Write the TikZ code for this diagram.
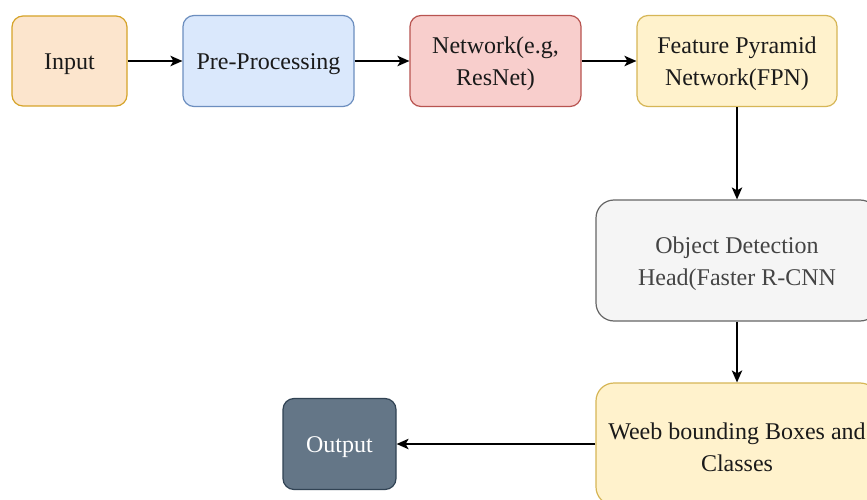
\documentclass[tikz,border=0pt]{standalone}
\usepackage{fontspec}
\setmainfont{Liberation Serif}
\usetikzlibrary{arrows.meta}
\definecolor{orangefill}{HTML}{FCE5CD}
\definecolor{orangeline}{HTML}{D6A42A}
\definecolor{bluefill}{HTML}{DAE8FC}
\definecolor{blueline}{HTML}{6C8EBF}
\definecolor{redfill}{HTML}{F8CECC}
\definecolor{redline}{HTML}{B85450}
\definecolor{yellowfill}{HTML}{FFF2CC}
\definecolor{yellowline}{HTML}{D6B656}
\definecolor{grayfill}{HTML}{F5F5F5}
\definecolor{grayline}{HTML}{666666}
\definecolor{darkfill}{HTML}{647687}
\definecolor{darkline}{HTML}{314354}
\definecolor{txt}{HTML}{1A1A1A}
\definecolor{graytxt}{HTML}{444444}
\begin{document}
\begin{tikzpicture}[x=1pt,y=-1pt,
  box/.style={draw, line width=1.2pt, rounded corners=11pt, inner sep=0pt},
  lbl/.style={align=center, inner sep=0pt, font=\fontsize{24}{32}\selectfont, text=txt},
  conn/.style={line width=1.4pt, -{Stealth[length=12pt,width=10.5pt,inset=3pt]}}]
\useasboundingbox (0,0) rectangle (867,500);
\clip (0,0) rectangle (867,500);
\fill[white] (0,0) rectangle (867,500);

% top row
\node[box, fill=orangefill, draw=orangeline, minimum width=115pt, minimum height=90pt] (in) at (69.5,61) {};
\node[box, fill=bluefill, draw=blueline, minimum width=171pt, minimum height=91pt] (pre) at (268.5,61) {};
\node[box, fill=redfill, draw=redline, minimum width=171pt, minimum height=91pt] (net) at (495.5,61) {};
\node[box, fill=yellowfill, draw=yellowline, minimum width=200pt, minimum height=91pt] (fpn) at (737,61) {};

% right column
\node[box, fill=grayfill, draw=grayline, rounded corners=18pt, minimum width=282pt, minimum height=121pt] (od) at (737,260.5) {};
\node[box, fill=yellowfill, draw=yellowline, rounded corners=18pt, minimum width=282pt, minimum height=122pt] (wb) at (737,444) {};

% result
\node[box, fill=darkfill, draw=darkline, minimum width=113pt, minimum height=91pt] (out) at (339.5,444) {};

% box texts, set slightly below centre
\node[lbl] (in-t)  at ([yshift=-3pt]in.center)  {Input};
\node[lbl] (pre-t) at ([yshift=-3pt]pre.center) {Pre-Processing};
\node[lbl] (net-t) at ([yshift=-3pt]net.center) {Network(e.g,\\ResNet)};
\node[lbl] (fpn-t) at ([yshift=-3pt]fpn.center) {Feature Pyramid\\Network(FPN)};
\node[lbl, text=graytxt] (od-t) at ([yshift=-3pt]od.center) {Object Detection\\Head(Faster R-CNN};
\node[lbl] (wb-t)  at ([yshift=-3pt]wb.center)  {Weeb bounding Boxes and\\Classes};
\node[lbl, text=white] (out-t) at ([yshift=-3pt]out.center) {Output};

% connectors
\draw[conn] (in) -- (pre);
\draw[conn] (pre) -- (net);
\draw[conn] (net) -- (fpn);
\draw[conn] (fpn) -- (od);
\draw[conn] (od) -- (wb);
\draw[conn] (wb) -- (out);
\end{tikzpicture}
\end{document}
